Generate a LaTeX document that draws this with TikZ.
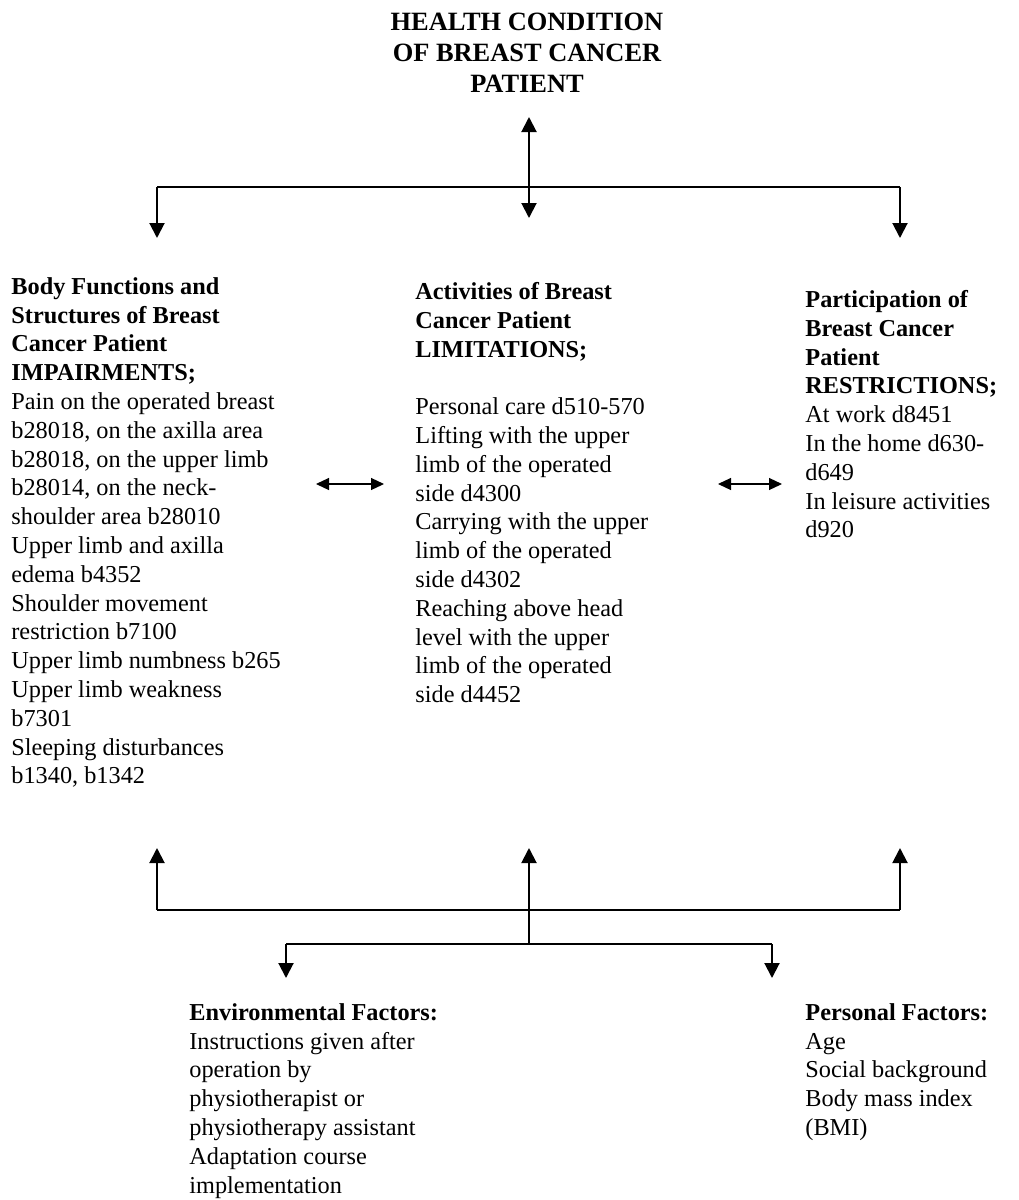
\documentclass[tikz,border=0pt]{standalone}
\usepackage{fontspec}
\setmainfont{Liberation Serif}
\usetikzlibrary{arrows.meta}

\tikzset{
  txt/.style={anchor=north west, align=left, inner sep=0pt,
    font=\fontsize{12.15}{14.4}\selectfont},
  bar/.style={line width=1pt},
  link/.style={line width=1pt, -{Triangle[length=7.5pt,width=7.5pt]}},
  twoway/.style={line width=1pt,
    {Triangle[length=7.5pt,width=7.5pt]}-{Triangle[length=7.5pt,width=7.5pt]}},
  sideway/.style={line width=0.6pt,
    {Triangle[length=6.5pt,width=6pt]}-{Triangle[length=6.5pt,width=6pt]}},
}

\begin{document}
\begin{tikzpicture}[x=0.5pt,y=-0.5pt]
\useasboundingbox (0,0) rectangle (1018,1200);

% health condition on top
\node[txt, anchor=north, align=center,
  font=\bfseries\fontsize{13.2}{15.5}\selectfont] (health) at (527,13)
  {HEALTH CONDITION\\OF BREAST CANCER\\PATIENT};

% the three middle blocks
\node[txt] (body) at (11,277) {\textbf{Body Functions and}\\
  \textbf{Structures of Breast}\\
  \textbf{Cancer Patient}\\
  \textbf{IMPAIRMENTS;}\\
  Pain on the operated breast\\
  b28018, on the axilla area\\
  b28018, on the upper limb\\
  b28014, on the neck-\\
  shoulder area b28010\\
  Upper limb and axilla\\
  edema b4352\\
  Shoulder movement\\
  restriction b7100\\
  Upper limb numbness b265\\
  Upper limb weakness\\
  b7301\\
  Sleeping disturbances\\
  b1340, b1342};
\node[txt] (activ) at (415,282) {\textbf{Activities of Breast}\\
  \textbf{Cancer Patient}\\
  \textbf{LIMITATIONS;}\\[14.4pt]
  Personal care d510-570\\
  Lifting with the upper\\
  limb of the operated\\
  side d4300\\
  Carrying with the upper\\
  limb of the operated\\
  side d4302\\
  Reaching above head\\
  level with the upper\\
  limb of the operated\\
  side d4452};
\node[txt] (partic) at (805,290) {\textbf{Participation of}\\
  \textbf{Breast Cancer}\\
  \textbf{Patient}\\
  \textbf{RESTRICTIONS;}\\
  At work d8451\\
  In the home d630-\\
  d649\\
  In leisure activities\\
  d920};

% contextual factors
\node[txt] (envir) at (189,1003) {\textbf{Environmental Factors:}\\
  Instructions given after\\
  operation by\\
  physiotherapist or\\
  physiotherapy assistant\\
  Adaptation course\\
  implementation};
\node[txt] (personal) at (805,1003) {\textbf{Personal Factors:}\\
  Age\\
  Social background\\
  Body mass index\\
  (BMI)};

% junction points
\coordinate (htip) at (529,117);
\coordinate (tbl) at (157,187);
\coordinate (tbr) at (900,187);
\coordinate (bodyin) at (157,238);
\coordinate (activin) at (529,218);
\coordinate (particin) at (900,238);
\coordinate (bodyright) at (316,484);
\coordinate (activleft) at (384,484);
\coordinate (activright) at (718,484);
\coordinate (particleft) at (782,484);
\coordinate (bodyout) at (157,848);
\coordinate (activout) at (529,848);
\coordinate (particout) at (900,848);
\coordinate (bbl) at (157,910);
\coordinate (bbm) at (529,910);
\coordinate (bbr) at (900,910);
\coordinate (fbm) at (529,944);
\coordinate (fbl) at (286,944);
\coordinate (fbr) at (772,944);
\coordinate (envirin) at (286,978);
\coordinate (personalin) at (772,978);

% upper distribution
\draw[twoway] (htip) -- (activin);
\draw[bar] (tbl) -- (tbr);
\draw[link] (tbl) -- (bodyin);
\draw[link] (tbr) -- (particin);

% links between the blocks
\draw[sideway] (bodyright) -- (activleft);
\draw[sideway] (activright) -- (particleft);

% lower distribution
\draw[bar] (bbl) -- (bbr);
\draw[link] (bbl) -- (bodyout);
\draw[link] (bbm) -- (activout);
\draw[link] (bbr) -- (particout);
\draw[bar] (bbm) -- (fbm);
\draw[bar] (fbl) -- (fbr);
\draw[link] (fbl) -- (envirin);
\draw[link] (fbr) -- (personalin);
\end{tikzpicture}
\end{document}
